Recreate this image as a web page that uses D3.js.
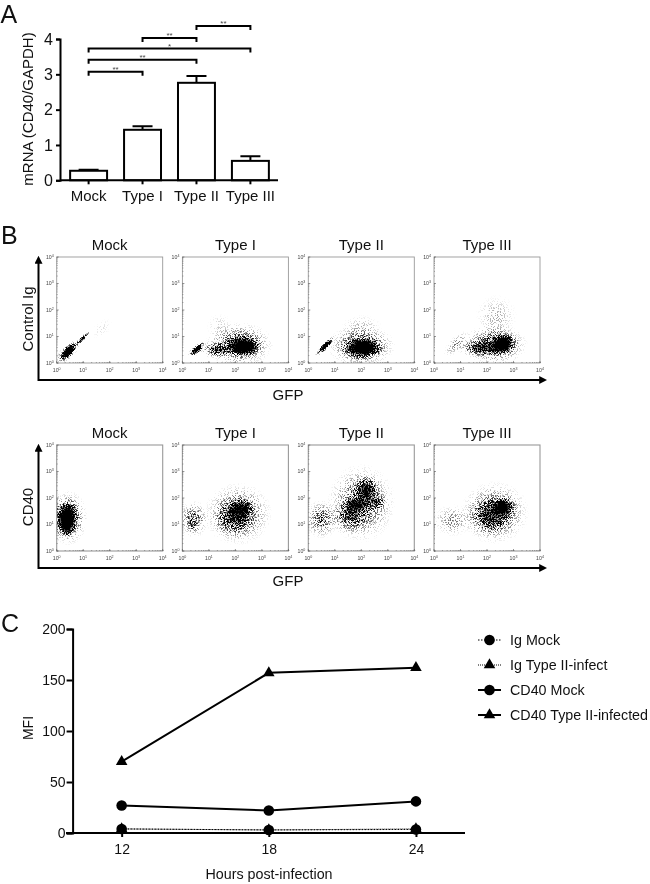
<!DOCTYPE html>
<html><head><meta charset="utf-8">
<script src="https://cdnjs.cloudflare.com/ajax/libs/d3/7.8.5/d3.min.js"></script>
<style>html,body{margin:0;padding:0;background:#fff}svg{display:block;opacity:.999}text{font-family:"Liberation Sans",Arial,sans-serif;fill:#111}</style>
</head><body><svg id="c" width="650" height="884"></svg>
<script>
// Panel A
const barCategories = ["Mock","Type I","Type II","Type III"];
const barValues = [0.27,1.43,2.76,0.55];
const barErrors = [0.03,0.10,0.19,0.13];
const barTicks = [0,1,2,3,4];
const brackets = [["Mock","Type I",3.07,"**"],["Mock","Type II",3.41,"**"],["Mock","Type III",3.73,"*"],["Type I","Type II",4.03,"**"],["Type II","Type III",4.37,"**"]];
// Panel B: event clouds, as [log10 GFP, log10 stain, half-width, half-height (decades), tilt in degrees, density]
const flowTitles = ["Mock","Type I","Type II","Type III"];
const flowDecades = [0,1,2,3,4];
const ctrlMock = [[0.42,0.42,0.58,0.26,45,1],[0.45,0.45,0.40,0.18,45,1],[0.95,0.90,0.48,0.1,45,.8],[1.7,1.3,.5,.3,45,.05]];
const ctrlType1 = [[0.54,0.50,0.42,0.18,40,.9],[0.62,0.60,.34,.12,40,.5],[2.3,0.63,0.8,0.46,0,.9],[2.3,.6,.5,.33,0,.9],[1.3,0.5,0.68,0.34,0,.6],[2.15,0.7,1.3,0.85,0,.55],[1.4,1.4,.5,.5,45,.08]];
const ctrlType2 = [[0.63,0.63,0.54,0.15,45,.9],[0.63,0.63,0.36,0.1,45,.8],[2.05,0.55,0.9,0.46,0,.9],[2.1,.6,.55,.33,0,.85],[2.0,0.65,1.3,0.8,0,.58],[2.0,1.35,.8,.5,0,.12]];
const ctrlType3 = [[2.6,0.7,0.62,0.46,20,.95],[2.6,.7,.38,.34,20,.9],[1.75,0.57,0.9,0.38,0,.6],[2.3,0.7,1.25,0.78,0,.55],[0.85,0.72,0.65,0.28,45,.24],[2.35,1.75,.8,.85,0,.14]];
const cd40Mock = [[0.38,1.24,0.45,0.78,-4,1],[0.38,1.1,.34,.66,0,1],[0.45,1.25,0.72,1.05,0,.6],[0.05,1.3,.15,1.0,0,.25]];
const cd40Type1 = [[0.42,1.2,0.6,0.72,0,.42],[2.2,1.6,0.62,0.42,15,.72],[1.95,1.25,0.9,0.8,0,.42],[2.1,1.4,1.3,1.2,0,.48],[0.4,.95,.2,.3,0,.2]];
const cd40Type2 = [[0.5,1.2,0.65,0.75,0,.42],[2.2,2.3,0.55,0.62,0,.7],[1.8,1.75,0.65,0.36,0,.72],[2.6,1.85,.42,.34,0,.5],[1.55,1.3,0.8,0.7,0,.45],[2.0,1.8,1.3,1.5,0,.48]];
const cd40Type3 = [[2.6,1.65,0.58,0.48,0,.75],[2.6,1.65,.36,.33,0,.8],[2.1,1.3,1.0,0.8,0,.45],[2.3,1.45,1.3,1.2,0,.48],[0.7,1.15,0.75,0.62,0,.24]];
const flowRows = [
 {label:"Control Ig",panels:[ctrlMock,ctrlType1,ctrlType2,ctrlType3]},
 {label:"CD40",panels:[cd40Mock,cd40Type1,cd40Type2,cd40Type3]}];
// Panel C
const hours = [12,18,24];
const mfiTicks = [0,50,100,150,200];
const igMock = [4,3,3.5];
const igType2 = [4,3,4];
const cd40MockMfi = [27,22,31];
const cd40Type2Mfi = [70,157,162];
const mfiNames = ["Ig Mock","Ig Type II-infect","CD40 Mock","CD40 Type II-infected"];
const mfiValues = [igMock,igType2,cd40MockMfi,cd40Type2Mfi];

const svg = d3.select("#c");
const defs = svg.append("defs");
const grad = defs.append("radialGradient").attr("id","cloud");
[[0,1],[.3,.8],[.55,.42],[.8,.1],[1,0]].forEach(([o,a])=>grad.append("stop").attr("offset",o).attr("stop-color","#000").attr("stop-opacity",a));
const f = defs.append("filter").attr("id","stipple").attr("x",0).attr("y",0).attr("width",1).attr("height",1).attr("color-interpolation-filters","sRGB");
f.append("feTurbulence").attr("type","fractalNoise").attr("baseFrequency",1.3).attr("numOctaves",1).attr("seed",4).attr("result","n");
f.append("feColorMatrix").attr("in","n").attr("type","matrix").attr("values","0 0 0 0 0 0 0 0 0 0 0 0 0 0 0 5 0 0 0 -2").attr("result","m");
f.append("feComposite").attr("in","SourceAlpha").attr("in2","m").attr("operator","arithmetic").attr("k1",0).attr("k2",2.6).attr("k3",1.3).attr("k4",-1.3).attr("result","t");
f.append("feGaussianBlur").attr("in","t").attr("stdDeviation",.45);
const m = defs.append("marker").attr("id","arrow").attr("viewBox","0 0 10 10").attr("refX",1).attr("refY",5).attr("markerWidth",8).attr("markerHeight",8).attr("markerUnits","userSpaceOnUse").attr("orient","auto");
m.append("path").attr("d","M0,0L10,5L0,10Z").attr("fill","#000");

function letter(t,x,y){svg.append("text").attr("x",x).attr("y",y).attr("font-size",25).text(t);}
letter("A",0.5,23);letter("B",1,244);letter("C",1,632);

// ---------- A
const ax = d3.scaleBand().domain(barCategories).range([61.5,277.5]).paddingInner(.315).paddingOuter(.16);
const ay = d3.scaleLinear().domain([0,4]).range([180.3,39]);
const gA = svg.append("g");
barCategories.forEach((c,i)=>{
  const xc = ax(c)+ax.bandwidth()/2, top = ay(barValues[i]), etop = ay(barValues[i]+barErrors[i]);
  gA.append("path").attr("d",`M${xc},${top}V${etop}M${xc-10},${etop}H${xc+10}`).attr("stroke","#000").attr("stroke-width",2).attr("fill","none");
  gA.append("rect").attr("x",ax(c)).attr("y",top).attr("width",ax.bandwidth()).attr("height",ay(0)-top).attr("fill","#fff").attr("stroke","#000").attr("stroke-width",2);
});
const axA = gA.append("g").attr("transform","translate(0,180.3)").call(d3.axisBottom(ax).tickSize(4).tickPadding(6));
axA.select(".domain").attr("d","M60,0H278");
const ayA = gA.append("g").attr("transform","translate(60,0)").call(d3.axisLeft(ay).tickValues(barTicks).tickFormat(d3.format("d")).tickSize(4).tickPadding(3));
[axA,ayA].forEach(g=>{g.selectAll("path,line").attr("stroke","#000").attr("stroke-width",2);g.selectAll("text").attr("font-size",15).attr("font-family","Liberation Sans").attr("fill","#111");});
ayA.selectAll("text").attr("font-size",16);
brackets.forEach(([a,b,v,s])=>{
  const x0=ax(a)+ax.bandwidth()/2, x1=ax(b)+ax.bandwidth()/2, y=ay(v);
  gA.append("path").attr("d",`M${x0},${y+4}V${y}H${x1}V${y+4}`).attr("fill","none").attr("stroke","#000").attr("stroke-width",2);
  gA.append("text").attr("x",(x0+x1)/2).attr("y",y+.5).attr("text-anchor","middle").attr("font-size",8).style("fill","#444").text(s);
});
svg.append("text").attr("transform","translate(33,109) rotate(-90)").attr("text-anchor","middle").attr("font-size",15).text("mRNA (CD40/GAPDH)");

// ---------- B
const panelLefts = [56.7,182.4,308.3,434];
const rowTops = [257,445];
const arrowY = [380,568];
const side = 106;
flowRows.forEach((row,ri)=>{
  const top = rowTops[ri];
  svg.append("line").attr("x1",38.5).attr("x2",38.5).attr("y1",arrowY[ri]+1).attr("y2",top+6).attr("stroke","#000").attr("stroke-width",2).attr("marker-end","url(#arrow)");
  svg.append("line").attr("x1",38).attr("x2",540).attr("y1",arrowY[ri]).attr("y2",arrowY[ri]).attr("stroke","#000").attr("stroke-width",2).attr("marker-end","url(#arrow)");
  svg.append("text").attr("x",288).attr("y",arrowY[ri]+(ri?18:20)).attr("text-anchor","middle").attr("font-size",15).text("GFP");
  svg.append("text").attr("transform",`translate(33,${top+62}) rotate(-90)`).attr("text-anchor","middle").attr("font-size",15).text(row.label);
  row.panels.forEach((clouds,pi)=>{
    const left = panelLefts[pi];
    const x = d3.scaleLog().domain([1,1e4]).range([left,left+side]);
    const y = d3.scaleLog().domain([1,1e4]).range([top+side,top]);
    const g = svg.append("g");
    const cid = `clip${ri}${pi}`;
    defs.append("clipPath").attr("id",cid).append("rect").attr("x",left).attr("y",top).attr("width",side).attr("height",side);
    g.append("g").attr("clip-path",`url(#${cid})`).append("g").attr("filter","url(#stipple)")
      .selectAll("ellipse").data(clouds).join("ellipse")
      .attr("cx",d=>x(10**d[0])).attr("cy",d=>y(10**d[1]))
      .attr("rx",d=>x(10**(d[0]+d[2]))-x(10**d[0]))
      .attr("ry",d=>y(10**d[1])-y(10**(d[1]+d[3])))
      .attr("transform",d=>`rotate(${-d[4]} ${x(10**d[0])} ${y(10**d[1])})`)
      .attr("fill","url(#cloud)").attr("fill-opacity",d=>d[5]);
    g.append("rect").attr("x",left).attr("y",top).attr("width",side).attr("height",side).attr("fill","none").attr("stroke","#999").attr("stroke-width",ri?1.1:.9);
    const minors = d3.range(0,4).flatMap(k=>d3.range(1,10).map(n=>n*10**k)).concat([1e4]);
    const xa = g.append("g").attr("transform",`translate(0,${top+side})`).call(d3.axisBottom(x).tickValues(minors).tickSize(-1).tickFormat(""));
    const ya = g.append("g").attr("transform",`translate(${left},0)`).call(d3.axisLeft(y).tickValues(minors).tickSize(-1).tickFormat(""));
    [xa,ya].forEach(a=>{a.select(".domain").remove();a.selectAll("line").attr("stroke","#555").attr("stroke-width",.5);});
    flowDecades.forEach(k=>{
      const xl = g.append("text").attr("x",x(10**k)).attr("y",top+side+8.5).attr("text-anchor","middle").attr("font-size",5.2).style("fill","#444");
      xl.append("tspan").text("10");xl.append("tspan").attr("dy",-1.6).attr("font-size",3.6).text(k);
      const yl = g.append("text").attr("x",left-3).attr("y",y(10**k)+1.5).attr("text-anchor","end").attr("font-size",5.2).style("fill","#444");
      yl.append("tspan").text("10");yl.append("tspan").attr("dy",-1.6).attr("font-size",3.6).text(k);
      g.append("line").attr("x1",x(10**k)).attr("x2",x(10**k)).attr("y1",top+side).attr("y2",top+side-2).attr("stroke","#555").attr("stroke-width",.6);
      g.append("line").attr("x1",left).attr("x2",left+2).attr("y1",y(10**k)).attr("y2",y(10**k)).attr("stroke","#555").attr("stroke-width",.6);
    });
    svg.append("text").attr("x",left+side/2).attr("y",top-7).attr("text-anchor","middle").attr("font-size",15).text(flowTitles[pi]);
  });
});

// ---------- C
const cx = d3.scaleLinear().domain([10,26]).range([72.6,465]);
const cy = d3.scaleLinear().domain([0,200]).range([833,629]);
const gC = svg.append("g");
const line = d3.line().x((d,i)=>cx(hours[i])).y(d=>cy(d));
const circ = d3.symbol().type(d3.symbolCircle).size(88)();
const tri = d3.symbol().type(d3.symbolTriangle).size(58)();
const lineStyles = [
 {w:1,dash:"1.5 1.5",sym:circ},{w:1,dash:"1 1",sym:tri},{w:2,dash:null,sym:circ},{w:2,dash:null,sym:tri}];
mfiValues.forEach((vals,si)=>{
  const st = lineStyles[si];
  gC.append("path").attr("d",line(vals)).attr("fill","none").attr("stroke","#000").attr("stroke-width",st.w).attr("stroke-dasharray",st.dash);
  vals.forEach((v,i)=>gC.append("path").attr("d",st.sym).attr("transform",`translate(${cx(hours[i])},${cy(v)})`).attr("fill","#000"));
});
const cxa = gC.append("g").attr("transform","translate(0,833)").call(d3.axisBottom(cx).tickValues(hours).tickSize(4).tickPadding(7));
cxa.select(".domain").attr("d","M66,0H465");
const cya = gC.append("g").attr("transform","translate(72.6,0)").call(d3.axisLeft(cy).tickValues(mfiTicks).tickSize(6).tickPadding(1));
[cxa,cya].forEach(g=>{g.selectAll("path,line").attr("stroke","#000").attr("stroke-width",2);g.selectAll("text").attr("font-size",14).attr("font-family","Liberation Sans").attr("fill","#111");});
svg.append("text").attr("x",269).attr("y",879).attr("text-anchor","middle").attr("font-size",14.3).text("Hours post-infection");
svg.append("text").attr("transform","translate(33,728) rotate(-90)").attr("text-anchor","middle").attr("font-size",14).text("MFI");
const lg = d3.scalePoint().domain(mfiNames).range([640,715]);
mfiNames.forEach((n,i)=>{
  const st=lineStyles[i], yy=lg(n);
  gC.append("line").attr("x1",478).attr("x2",501).attr("y1",yy).attr("y2",yy).attr("stroke","#000").attr("stroke-width",st.w).attr("stroke-dasharray",st.dash);
  gC.append("path").attr("d",st.sym).attr("transform",`translate(489.5,${yy})`).attr("fill","#000");
  gC.append("text").attr("x",510).attr("y",yy+5).attr("font-size",14.3).text(n);
});
</script></body></html>
